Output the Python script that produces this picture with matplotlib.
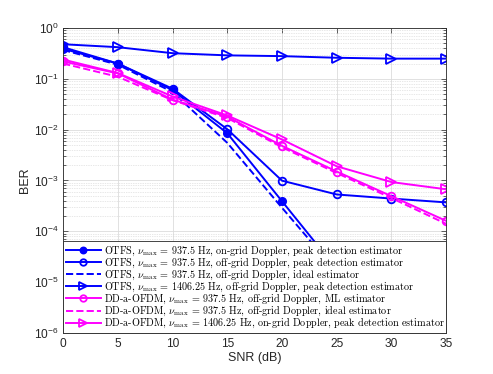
import numpy as np
import matplotlib
matplotlib.use('Agg')
import matplotlib.pyplot as plt
from matplotlib.ticker import LogLocator, NullFormatter

plt.rcParams['font.family'] = ['Liberation Sans', 'DejaVu Sans']
plt.rcParams['mathtext.fontset'] = 'cm'

snr = [0, 5, 10, 15, 20, 25, 30, 35]

# BER
otfs_on_peak = [0.39, 0.20, 0.060, 0.0085, 3.9e-4, 1.8e-5, 8e-7, 3e-8]
otfs_off_peak = [0.42, 0.20, 0.064, 0.0102, 9.9e-4, 5.3e-4, 4.4e-4, 3.7e-4]
otfs_off_ideal = [0.37, 0.19, 0.055, 0.0055, 2.9e-4, 1.6e-5, 8e-7, 4e-8]
otfs_1406 = [0.48, 0.42, 0.32, 0.29, 0.28, 0.26, 0.25, 0.25]
ofdm_ml = [0.22, 0.128, 0.039, 0.018, 0.0048, 0.0015, 4.9e-4, 1.6e-4]
ofdm_ideal = [0.20, 0.11, 0.038, 0.017, 0.0045, 0.0014, 4.5e-4, 1.4e-4]
ofdm_1406 = [0.24, 0.13, 0.045, 0.019, 0.0064, 0.0019, 9.3e-4, 6.7e-4]

labels = [
    r'OTFS, $\nu_{\max}$ = 937.5 Hz, on-grid Doppler, peak detection estimator',
    r'OTFS, $\nu_{\max}$ = 937.5 Hz, off-grid Doppler, peak detection estimator',
    r'OTFS, $\nu_{\max}$ = 937.5 Hz, off-grid Doppler, ideal estimator',
    r'OTFS, $\nu_{\max}$ = 1406.25 Hz, off-grid Doppler, peak detection estimator',
    r'DD-a-OFDM, $\nu_{\max}$ = 937.5 Hz, off-grid Doppler, ML estimator',
    r'DD-a-OFDM, $\nu_{\max}$ = 937.5 Hz, off-grid Doppler, ideal estimator',
    r'DD-a-OFDM, $\nu_{\max}$ = 1406.25 Hz, on-grid Doppler, peak detection estimator',
]

blue = (0, 0, 1)
mag = (1, 0, 1)
lw = 1.4
ms = 5.5

fig = plt.figure(figsize=(4.93, 3.74), dpi=100)
ax = fig.add_axes([0.128, 0.110, 0.777, 0.815])

ax.semilogy(snr, otfs_on_peak, '-o', color=blue, lw=lw, ms=ms, mfc=blue, label=labels[0])
ax.semilogy(snr, otfs_off_peak, '-o', color=blue, lw=lw, ms=ms, mfc='none', mew=1.3, label=labels[1])
ax.semilogy(snr, otfs_off_ideal, '--', color=blue, lw=lw, label=labels[2])
ax.semilogy(snr, otfs_1406, '->', color=blue, lw=lw, ms=ms + 1, mfc='none', mew=1.3, label=labels[3])
ax.semilogy(snr, ofdm_ml, '-o', color=mag, lw=lw, ms=ms, mfc='none', mew=1.3, label=labels[4])
ax.semilogy(snr, ofdm_ideal, '--', color=mag, lw=lw, label=labels[5])
ax.semilogy(snr, ofdm_1406, '->', color=mag, lw=lw, ms=ms + 1, mfc='none', mew=1.3, label=labels[6])

ax.set_xlim(0, 35)
ax.set_ylim(1e-6, 1)
ax.set_xticks(snr)
ax.set_yticks([1e-6, 1e-5, 1e-4, 1e-3, 1e-2, 1e-1, 1])
ax.yaxis.set_minor_locator(LogLocator(base=10, subs=np.arange(2, 10), numticks=20))
ax.yaxis.set_minor_formatter(NullFormatter())
ax.tick_params(which='both', direction='in', top=True, right=True, labelsize=8.6, colors='#262626', width=0.5)
ax.tick_params(which='major', length=3.5)
ax.tick_params(which='minor', length=2)
ax.grid(True, which='major', color='#dcdcdc', lw=0.6)
ax.grid(True, which='minor', axis='y', color='#d0d0d0', lw=0.5, ls=(0, (1, 1.5)))
ax.set_axisbelow(True)
for s in ax.spines.values():
    s.set_linewidth(0.6)
    s.set_color('#262626')

ax.set_xlabel('SNR (dB)', fontsize=9, color='#262626', labelpad=2)
ax.set_ylabel('BER', fontsize=9, color='#262626', labelpad=2)

leg = ax.legend(loc='lower left', bbox_to_anchor=(0, 0, 1, 0.3), mode='expand',
                borderaxespad=0, prop={'family': 'cmr10', 'size': 7.3},
                handlelength=3.5, handletextpad=0.3, labelspacing=-0.22,
                borderpad=0.25, fancybox=False, framealpha=1, edgecolor='#262626',
                markerscale=0.85)
leg.get_frame().set_linewidth(0.6)

fig.savefig('out.png', dpi=100)
